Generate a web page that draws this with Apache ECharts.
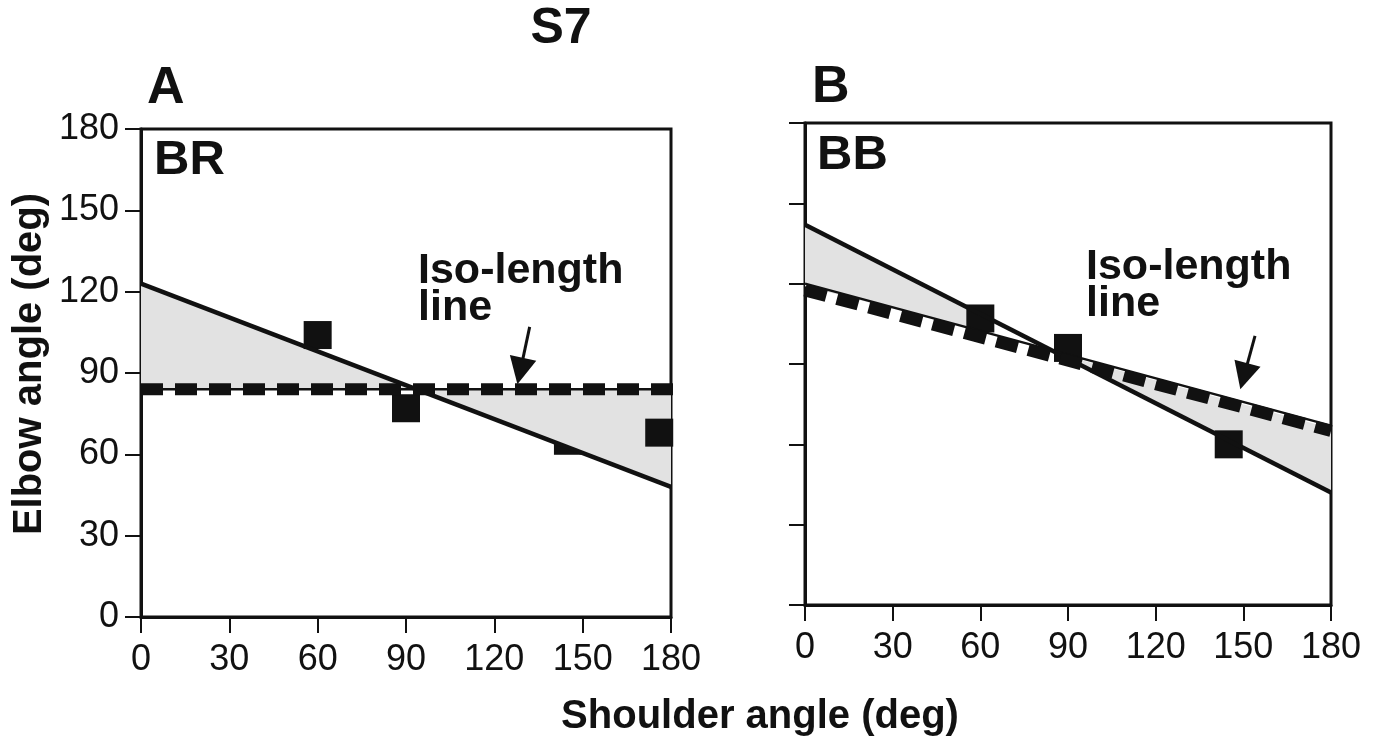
<!DOCTYPE html>
<html>
<head>
<meta charset="utf-8">
<script src="https://cdn.jsdelivr.net/npm/echarts@6/dist/echarts.min.js"></script>
<style>
html,body{margin:0;padding:0;background:#fff;}
#chart{width:1375px;height:742px;}
</style>
</head>
<body>
<div id="chart"></div>
<script>
// ---------- data ----------
const axisMin = 0, axisMax = 180, axisStep = 30;

// Panel A (BR)
const panelA_solid = [[0, 123], [180, 48]];
const panelA_iso = [[0, 84], [184, 84]];
const panelA_points = [[60, 104], [90, 77], [176, 68]];
const panelA_hiddenPoints = [[145, 65]];
const panelA_fill = [[0, 123], [180, 48], [180, 84], [0, 84]];
const panelA_arrow = [[132, 107], [128.8, 90.7]];

// Panel B (BB)
const panelB_solid = [[0, 142], [180, 42]];
const panelB_isoThin = [[0, 120], [180, 67]];
const panelB_isoDash = [[0, 117.5], [180, 65]];
const panelB_points = [[60, 107], [90, 96], [145, 60]];
const panelB_fill1 = [[0, 142], [56, 111], [56, 103.5], [0, 119]];
const panelB_fill2 = [[86, 94], [180, 42], [180, 66]];
const panelB_arrow = [[154, 100.5], [150.2, 85.4]];

// texts
const titleText = 'S7';
const panelLabels = ['A', 'B'];
const muscleLabels = ['BR', 'BB'];
const isoText = 'Iso-length\nline';
const xTitle = 'Shoulder angle (deg)';
const yTitle = 'Elbow angle (deg)';

// ---------- chart ----------
const FONT = '"Liberation Sans", Arial, Helvetica, sans-serif';
const chart = echarts.init(document.getElementById('chart'), null, {renderer: 'canvas'});

function xAxisCfg(gi) {
  return {
    type: 'value', gridIndex: gi, min: axisMin, max: axisMax, interval: axisStep,
    axisLine: {show: true, onZero: false, lineStyle: {color: '#111', width: 3}},
    axisTick: {show: true, inside: false, length: 16, lineStyle: {color: '#111', width: 2}},
    axisLabel: {show: true, fontSize: 36, color: '#111', fontFamily: FONT, margin: 25},
    splitLine: {show: false}
  };
}
function yAxisCfg(gi, showLabels) {
  return {
    type: 'value', gridIndex: gi, min: axisMin, max: axisMax, interval: axisStep,
    axisLine: {show: true, onZero: false, lineStyle: {color: '#111', width: 3}},
    axisTick: {show: true, inside: false, length: 16, lineStyle: {color: '#111', width: 2}},
    axisLabel: {show: showLabels, fontSize: 36, color: '#111', fontFamily: FONT, margin: 22},
    splitLine: {show: false}
  };
}
function polygonSeries(points, xi, z) {
  return {
    type: 'custom', xAxisIndex: xi, yAxisIndex: xi, z: z, silent: true,
    data: [[points[0][0], points[0][1]]],
    renderItem: function (params, api) {
      return {
        type: 'polygon',
        shape: {points: points.map(function (p) { return api.coord(p); })},
        style: {fill: '#e2e2e2', stroke: null}
      };
    }
  };
}
function lineSeries(data, xi, width, z, dash, clip) {
  return {
    type: 'line', xAxisIndex: xi, yAxisIndex: xi, data: data, z: z,
    showSymbol: false, symbol: 'none', silent: true, clip: clip !== false,
    lineStyle: {color: '#111', width: width, type: dash || 'solid', cap: 'butt', opacity: 1},
    animation: false
  };
}
function squareSeries(data, xi, z) {
  return {
    type: 'scatter', xAxisIndex: xi, yAxisIndex: xi, data: data, z: z,
    symbol: 'rect', symbolSize: 28, silent: true,
    itemStyle: {color: '#111', opacity: 1}
  };
}
function arrowSeries(pair, xi) {
  return {
    type: 'lines', coordinateSystem: 'cartesian2d', xAxisIndex: xi, yAxisIndex: xi, z: 6,
    symbol: ['none', 'triangle'], symbolSize: 27, silent: true,
    lineStyle: {color: '#111', width: 3, opacity: 1, curveness: 0},
    itemStyle: {color: '#111'},
    data: [{coords: pair}]
  };
}

function txt(x, y, text, size, opts) {
  opts = opts || {};
  return {
    type: 'text', x: x, y: y, rotation: opts.rotation || 0, z: 100,
    style: {
      text: text, fill: '#111',
      font: (opts.weight || 'bold') + ' ' + size + 'px ' + FONT,
      align: opts.align || 'left', verticalAlign: 'middle',
      lineHeight: opts.lineHeight || size
    }
  };
}

const option = {
  animation: false,
  backgroundColor: '#fff',
  grid: [
    {left: 141, top: 129, width: 530, height: 488, show: true, borderColor: '#111', borderWidth: 3, backgroundColor: 'transparent'},
    {left: 805, top: 123, width: 526, height: 482, show: true, borderColor: '#111', borderWidth: 3, backgroundColor: 'transparent'}
  ],
  xAxis: [xAxisCfg(0), xAxisCfg(1)],
  yAxis: [yAxisCfg(0, true), yAxisCfg(1, false)],
  series: [
    // panel A
    squareSeries(panelA_hiddenPoints, 0, 1),
    polygonSeries(panelA_fill, 0, 2),
    squareSeries(panelA_points, 0, 3),
    lineSeries(panelA_solid, 0, 4.5, 4),
    lineSeries(panelA_iso, 0, 2.5, 4, 'solid', false),
    lineSeries(panelA_iso, 0, 12, 5, [22, 12], false),
    arrowSeries(panelA_arrow, 0),
    // panel B
    polygonSeries(panelB_fill1, 1, 2),
    polygonSeries(panelB_fill2, 1, 2),
    squareSeries(panelB_points, 1, 3),
    lineSeries(panelB_solid, 1, 4.5, 4),
    lineSeries(panelB_isoThin, 1, 2.5, 4),
    lineSeries(panelB_isoDash, 1, 12, 5, [22, 11]),
    arrowSeries(panelB_arrow, 1)
  ],
  graphic: [
    txt(561, 29, titleText, 50, {align: 'center'}),
    txt(147, 89, panelLabels[0], 52),
    txt(812, 88, panelLabels[1], 52),
    txt(154, 160, muscleLabels[0], 49),
    txt(817, 155, muscleLabels[1], 49),
    txt(418, 290, isoText, 43, {lineHeight: 37}),
    txt(1086, 286, isoText, 43, {lineHeight: 37}),
    txt(760, 717, xTitle, 40, {align: 'center'}),
    txt(30, 364, yTitle, 40, {align: 'center', rotation: Math.PI / 2})
  ]
};
chart.setOption(option);
</script>
</body>
</html>
